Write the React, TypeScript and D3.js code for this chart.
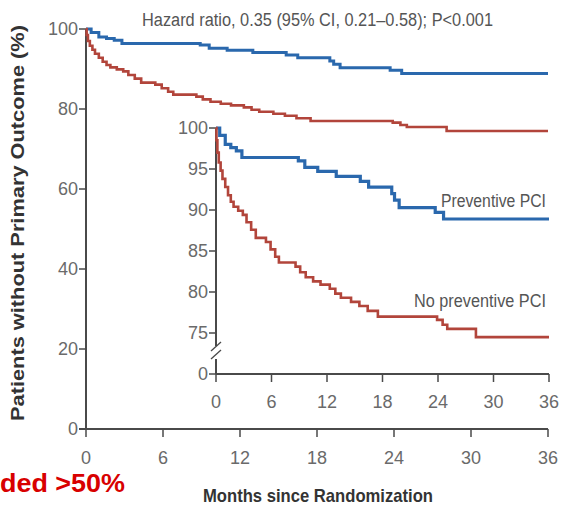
import * as d3 from "d3";

// Kaplan-Meier steps (months, % without primary outcome)
const preventiveMonths = [0, 0.4, 1.0, 1.6, 2.2, 2.8, 8.9, 9.6, 11.0, 13.0, 15.6, 16.5, 19.0, 19.3, 19.8, 23.7, 24.6, 36];
const preventiveValues = [100, 99.1, 98.0, 97.6, 97.2, 96.4, 96.0, 95.2, 94.7, 94.1, 93.5, 92.8, 92.0, 91.2, 90.3, 89.7, 88.9, 88.9];

const noPreventiveMonths = [
  0, 0.05, 0.15, 0.3, 0.5, 0.7, 1.0, 1.3, 1.6, 1.9, 2.4, 2.9, 3.3, 3.8, 4.3, 5.4, 5.9, 6.4, 6.8, 8.6, 9.1, 9.7,
  10.5, 11.3, 12.3, 12.9, 13.5, 14.6, 15.5, 16.4, 17.5, 23.9, 24.5, 25.0, 28.1, 36,
];
const noPreventiveValues = [
  100, 98.5, 97, 95.8, 94.8, 93.8, 92.8, 91.8, 91.0, 90.4, 89.9, 89.4, 88.5, 87.6, 86.6, 86.1, 85.2, 84.3, 83.6,
  83.1, 82.4, 81.8, 81.3, 80.9, 80.4, 79.8, 79.3, 78.8, 78.3, 77.7, 77.0, 76.6, 76.0, 75.5, 74.5, 74.5,
];

const monthTicks = [0, 6, 12, 18, 24, 30, 36];
const mainYTicks = [0, 20, 40, 60, 80, 100];
const insetYTicks = [75, 80, 85, 90, 95, 100];

const blue = "#2a68ad";
const red = "#b2453b";
const axisColor = "#4a4a4a";
const labelColor = "#6a6a6a";
const narrow = "'Liberation Sans Narrow', 'Arial Narrow', sans-serif";
const tickSize = 18;

type Pt = { m: number; v: number };
const zip = (ms: number[], vs: number[]): Pt[] => ms.map((m, i) => ({ m, v: vs[i] }));
const blueData = zip(preventiveMonths, preventiveValues);
const redData = zip(noPreventiveMonths, noPreventiveValues);

export default function App() {
  const width = 562;
  const height = 512;

  // main panel
  const x = d3.scaleLinear().domain([0, 36]).range([86, 548]);
  const y = d3.scaleLinear().domain([0, 100]).range([429, 29]);
  // inset panel
  const xi = d3.scaleLinear().domain([0, 36]).range([216, 549]);
  const yi = d3.scaleLinear().domain([75, 100]).range([333, 128]);
  const insetZeroY = 374;

  const mainLine = d3
    .line<Pt>()
    .x((d) => x(d.m))
    .y((d) => y(d.v))
    .curve(d3.curveStepAfter);
  const insetLine = d3
    .line<Pt>()
    .x((d) => xi(d.m))
    .y((d) => yi(d.v))
    .curve(d3.curveStepAfter);

  return (
    <svg width={width} height={height} style={{ position: "absolute", left: 0, top: 0, background: "#fff" }}>
      <rect width={width} height={height} fill="#fff" />

      <text x={142} y={26} fontFamily={narrow} fontSize={18} fill="#555" textLength={351} lengthAdjust="spacingAndGlyphs">
        Hazard ratio, 0.35 (95% CI, 0.21–0.58); P&lt;0.001
      </text>

      {/* main axes */}
      <line x1={x(0)} x2={x(0)} y1={y(100)} y2={y(0)} stroke={axisColor} strokeWidth={2} />
      <line x1={x(0) - 7} x2={x(36)} y1={y(0)} y2={y(0)} stroke={axisColor} strokeWidth={2} />
      {mainYTicks.map((t) => (
        <g key={`my-${t}`}>
          <line x1={x(0) - 7} x2={x(0)} y1={y(t)} y2={y(t)} stroke={axisColor} strokeWidth={1.5} />
          <text x={x(0) - 8} y={y(t) + 6} textAnchor="end" fontFamily={narrow} fontSize={tickSize} fill={labelColor}>
            {t}
          </text>
        </g>
      ))}
      {monthTicks.map((t) => (
        <g key={`mx-${t}`}>
          <line x1={x(t)} x2={x(t)} y1={y(0)} y2={y(0) + 8} stroke={axisColor} strokeWidth={1.5} />
          <text x={x(t)} y={y(0) + 35} textAnchor="middle" fontFamily={narrow} fontSize={tickSize} fill={labelColor}>
            {t}
          </text>
        </g>
      ))}

      <path d={mainLine(blueData) ?? ""} fill="none" stroke={blue} strokeWidth={3} />
      <path d={mainLine(redData) ?? ""} fill="none" stroke={red} strokeWidth={2.6} />

      {/* inset axes */}
      <line x1={xi(0)} x2={xi(0)} y1={yi(100)} y2={346} stroke={axisColor} strokeWidth={2} />
      <line x1={xi(0)} x2={xi(0)} y1={359} y2={insetZeroY} stroke={axisColor} strokeWidth={2} />
      <line x1={xi(0) - 5} x2={xi(0) + 5} y1={351} y2={342} stroke={axisColor} strokeWidth={1.3} />
      <line x1={xi(0) - 5} x2={xi(0) + 5} y1={359} y2={350} stroke={axisColor} strokeWidth={1.3} />
      <line x1={xi(0)} x2={xi(36)} y1={insetZeroY} y2={insetZeroY} stroke={axisColor} strokeWidth={2} />
      {insetYTicks.map((t) => (
        <g key={`iy-${t}`}>
          <line x1={xi(0) - 7} x2={xi(0)} y1={yi(t)} y2={yi(t)} stroke={axisColor} strokeWidth={1.5} />
          <text x={xi(0) - 8} y={yi(t) + 6} textAnchor="end" fontFamily={narrow} fontSize={tickSize} fill={labelColor}>
            {t}
          </text>
        </g>
      ))}
      <line x1={xi(0) - 7} x2={xi(0)} y1={insetZeroY} y2={insetZeroY} stroke={axisColor} strokeWidth={1.5} />
      <text x={xi(0) - 8} y={insetZeroY + 6} textAnchor="end" fontFamily={narrow} fontSize={tickSize} fill={labelColor}>
        0
      </text>
      {monthTicks.map((t) => (
        <g key={`ix-${t}`}>
          <line x1={xi(t)} x2={xi(t)} y1={insetZeroY} y2={insetZeroY + 8} stroke={axisColor} strokeWidth={1.5} />
          <text x={xi(t)} y={insetZeroY + 34} textAnchor="middle" fontFamily={narrow} fontSize={tickSize} fill={labelColor}>
            {t}
          </text>
        </g>
      ))}

      <path d={insetLine(blueData) ?? ""} fill="none" stroke={blue} strokeWidth={3.2} />
      <path d={insetLine(redData) ?? ""} fill="none" stroke={red} strokeWidth={2.6} />

      <text x={441} y={207} fontFamily={narrow} fontSize={18} fill="#555" textLength={105} lengthAdjust="spacingAndGlyphs">
        Preventive PCI
      </text>
      <text x={414} y={307} fontFamily={narrow} fontSize={18} fill="#555" textLength={132} lengthAdjust="spacingAndGlyphs">
        No preventive PCI
      </text>

      {/* axis titles */}
      <text
        x={203}
        y={502}
        fontFamily={narrow}
        fontSize={19}
        fontWeight="bold"
        fill="#333"
        textLength={230}
        lengthAdjust="spacingAndGlyphs"
      >
        Months since Randomization
      </text>
      <text
        transform="translate(24,421) rotate(-90)"
        fontFamily="'Liberation Sans', Arial, sans-serif"
        fontSize={18}
        fontWeight="bold"
        fill="#333"
        textLength={396}
        lengthAdjust="spacingAndGlyphs"
      >
        Patients without Primary Outcome (%)
      </text>

      <text
        x={0}
        y={492}
        fontFamily="'Liberation Sans', Arial, sans-serif"
        fontSize={26}
        fontWeight="bold"
        fill="#d80000"
        textLength={125}
        lengthAdjust="spacingAndGlyphs"
      >
        ded &gt;50%
      </text>
    </svg>
  );
}
